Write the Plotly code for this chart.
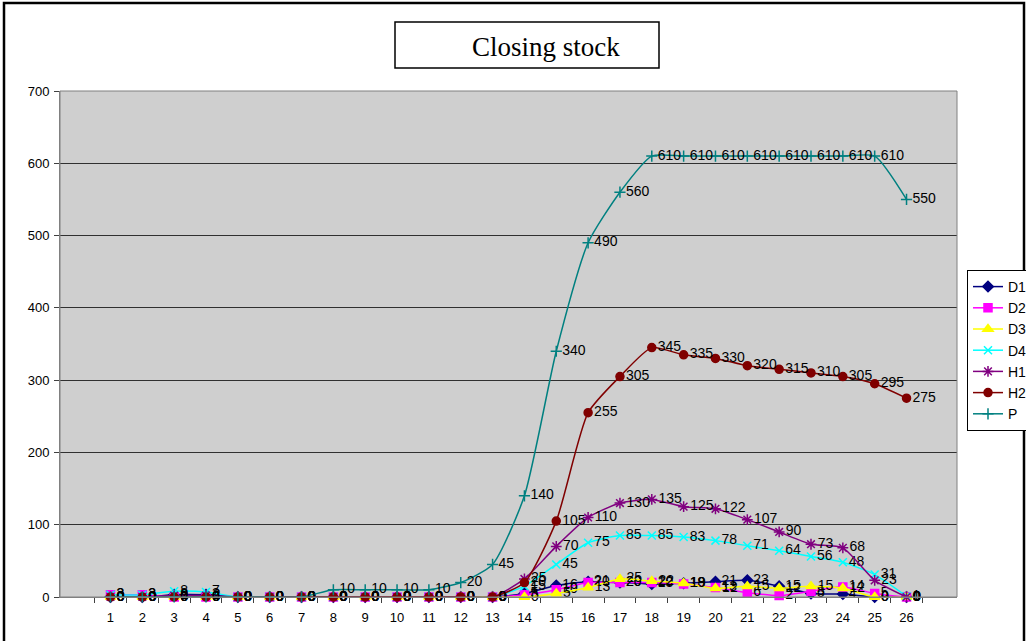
import plotly.graph_objects as go

# Periods 1..26
periods = [str(i) for i in range(1, 27)]

# Closing stock per product
d1 = [0, 0, 3, 3, 0, 0, 0, 0, 0, 0, 0, 0, 0, 5, 16, 21, 20, 18, 19, 21, 23, 15, 5, 4, 0, 0]
d2 = [3, 3, 0, 0, 0, 0, 0, 0, 0, 0, 0, 0, 0, 3, 10, 20, 20, 20, 18, 13, 6, 2, 8, 14, 5, 0]
d3 = [0, 0, 0, 0, 0, 0, 0, 0, 0, 0, 0, 0, 0, 0, 5, 13, 25, 22, 19, 12, 15, 12, 15, 12, 0, 0]
d4 = [3, 3, 8, 7, 0, 0, 0, 0, 0, 0, 0, 0, 0, 15, 45, 75, 85, 85, 83, 78, 71, 64, 56, 48, 31, 1]
h1 = [0, 0, 2, 2, 0, 0, 0, 0, 0, 0, 0, 0, 0, 25, 70, 110, 130, 135, 125, 122, 107, 90, 73, 68, 23, 0]
h2 = [0, 0, 0, 0, 0, 0, 0, 0, 0, 0, 0, 0, 0, 20, 105, 255, 305, 345, 335, 330, 320, 315, 310, 305, 295, 275]
p = [0, 0, 0, 0, 0, 0, 0, 10, 10, 10, 10, 20, 45, 140, 340, 490, 560, 610, 610, 610, 610, 610, 610, 610, 610, 550]

series = [
    ("D1", d1, "#000080", "diamond", 8),
    ("D2", d2, "#FF00FF", "square", 8),
    ("D3", d3, "#FFFF00", "triangle-up", 9),
    ("D4", d4, "#00FFFF", "x-thin-open", 8),
    ("H1", h1, "#800080", "asterisk-open", 9),
    ("H2", h2, "#800000", "circle", 8),
    ("P", p, "#008080", "cross-thin-open", 8),
]

fig = go.Figure()
for name, vals, color, symbol, size in series:
    fig.add_trace(go.Scatter(
        x=periods, y=vals, name=name,
        mode="lines+markers+text",
        text=[str(v) for v in vals],
        textposition="middle right",
        textfont=dict(family="Liberation Sans, Arial", size=14, color="#000000"),
        line=dict(color=color, width=1.5, shape="spline", smoothing=0.6),
        marker=dict(symbol=symbol, size=size, color=color,
                    line=dict(color=color, width=1.5)),
        cliponaxis=False,
    ))

# plot area spans x 60..957 px, y 91..597 px
L, R, T, B = 60, 957, 91, 597
W, H = 1026, 641


def px(x):
    return (x - L) / (R - L)


def py(y):
    return (B - y) / (B - T)


fig.update_layout(
    width=W, height=H,
    margin=dict(l=L, r=W - R, t=T, b=H - B, pad=0, autoexpand=False),
    paper_bgcolor="#FFFFFF",
    plot_bgcolor="#CFCFCF",
    font=dict(family="Liberation Sans, Arial", size=13, color="#000000"),
    showlegend=True,
    legend=dict(
        x=px(967), y=py(270), xanchor="left", yanchor="top",
        bgcolor="#FFFFFF", bordercolor="#000000", borderwidth=1,
        font=dict(size=14), itemwidth=30, tracegroupgap=0,
    ),
    xaxis=dict(
        type="category", showgrid=False, zeroline=False,
        showline=True, linecolor="#808080", linewidth=1,
        ticks="outside", ticklen=5, tickcolor="#404040", tickson="boundaries",
        tickfont=dict(size=13), ticklabelstandoff=8, mirror=False,
    ),
    yaxis=dict(
        range=[0, 700], dtick=100, showgrid=True, gridcolor="#303030", gridwidth=1,
        zeroline=False, showline=True, linecolor="#808080", linewidth=1,
        ticks="outside", ticklen=5, tickcolor="#404040", tickfont=dict(size=13),
        ticklabelstandoff=2,
    ),
    shapes=[
        # outer chart border
        dict(type="rect", xref="paper", yref="paper",
             x0=px(4), x1=px(1024), y0=py(650), y1=py(3),
             line=dict(color="#000000", width=2.5), fillcolor="rgba(0,0,0,0)"),
        # plot area right/top edge
        dict(type="rect", xref="paper", yref="paper", x0=0, x1=1, y0=0, y1=1,
             line=dict(color="#808080", width=1), fillcolor="rgba(0,0,0,0)"),
        # title box
        dict(type="rect", xref="paper", yref="paper",
             x0=px(395), x1=px(659), y0=py(68), y1=py(22),
             line=dict(color="#000000", width=1.5), fillcolor="#FFFFFF"),
    ],
    annotations=[
        dict(text="Closing stock", xref="paper", yref="paper",
             x=px(546), y=py(47), xanchor="center", yanchor="middle",
             showarrow=False,
             font=dict(family="Liberation Serif, Times New Roman", size=27, color="#000000")),
    ],
)

fig.write_html("out.html")
